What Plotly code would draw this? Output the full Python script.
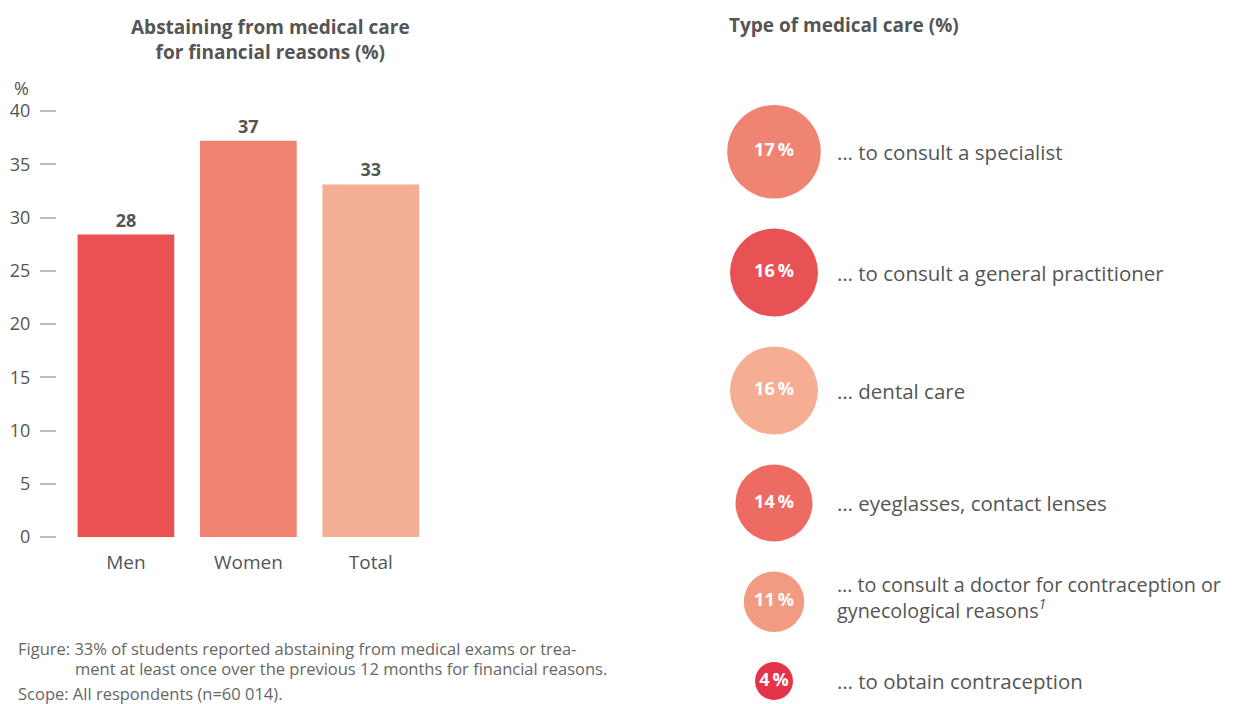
import plotly.graph_objects as go

# ---- data ----
groups = ["Men", "Women", "Total"]
abstain_values = [28.4, 37.2, 33.1]
y_ticks = [0, 5, 10, 15, 20, 25, 30, 35, 40]

care_labels = [
    "… to consult a specialist",
    "… to consult a general practitioner",
    "… dental care",
    "… eyeglasses, contact lenses",
    "… to consult a doctor for contraception or<br>gynecological reasons<sup><i>1</i></sup>",
    "… to obtain contraception",
]
care_values = [17, 16, 16, 14, 11, 4]

# ---- styles ----
FONT = "Open Sans"
TXT = "#555555"
NOTE = "#666666"
bar_colors = ["#EA5153", "#F08372", "#F5AE96"]
circle_colors = ["#F08472", "#E95255", "#F5AD94", "#EE6B63", "#F29B83", "#E5344A"]

W, H = 1233, 704

fig = go.Figure()

fig.add_trace(go.Bar(
    x=groups, y=abstain_values,
    marker=dict(color=bar_colors, line=dict(width=0)),
    width=0.79,
    texttemplate="<b>%{y:.0f}</b>",
    textposition="outside",
    textfont=dict(family=FONT, size=18, color=TXT),
    cliponaxis=False,
    xaxis="x", yaxis="y",
    hoverinfo="skip",
))

# bubble layout: stacked vertically, diameter proportional to value (min size)
diam = [max(38, 5.5 * v) for v in care_values]
gap = 30
top = 105
centers = []
cur = top
for d in diam:
    centers.append(cur + d / 2)
    cur += d + gap

fig.add_trace(go.Scatter(
    x=[0] * len(care_values), y=centers,
    mode="markers+text",
    marker=dict(size=diam, color=circle_colors, line=dict(width=0), opacity=1),
    text=[f"<b>{v}\u2009%</b>" for v in care_values],
    textposition="middle center",
    textfont=dict(family=FONT, size=18, color="white"),
    xaxis="x2", yaxis="y2",
    cliponaxis=False,
    hoverinfo="skip",
))

annotations = []
for lab, c in zip(care_labels, centers):
    multiline = "<br>" in lab
    annotations.append(dict(
        x=0, y=c, xref="x2", yref="y2", text=lab, showarrow=False,
        xanchor="left", yanchor="middle", align="left",
        xshift=61, yshift=4 if multiline else 0,
        font=dict(family=FONT, size=19.8 if multiline else 20.5, color=TXT),
    ))

annotations += [
    dict(x=270 / W, y=1 - 39 / H, xref="paper", yref="paper",
         text="<b>Abstaining from medical care<br>for financial reasons (%)</b>",
         showarrow=False, xanchor="center", yanchor="middle", align="center",
         font=dict(family=FONT, size=19, color=TXT)),
    dict(x=727 / W, y=1 - 25 / H, xref="paper", yref="paper",
         text="<b>Type of medical care (%)</b>",
         showarrow=False, xanchor="left", yanchor="middle", align="left",
         font=dict(family=FONT, size=19, color=TXT)),
    dict(x=12 / W, y=1 - 88 / H, xref="paper", yref="paper", text="%",
         showarrow=False, xanchor="left", yanchor="middle",
         font=dict(family=FONT, size=18, color=TXT)),
    dict(x=16 / W, y=1 - 648 / H, xref="paper", yref="paper",
         text="Figure: 33% of students reported abstaining from medical exams or trea-",
         showarrow=False, xanchor="left", yanchor="middle", align="left",
         font=dict(family=FONT, size=16.5, color=NOTE)),
    dict(x=73 / W, y=1 - 668 / H, xref="paper", yref="paper",
         text="ment at least once over the previous 12 months for financial reasons.",
         showarrow=False, xanchor="left", yanchor="middle", align="left",
         font=dict(family=FONT, size=16.5, color=NOTE)),
    dict(x=16 / W, y=1 - 693 / H, xref="paper", yref="paper",
         text="Scope: All respondents (n=60 014).",
         showarrow=False, xanchor="left", yanchor="middle", align="left",
         font=dict(family=FONT, size=16.5, color=NOTE)),
]

fig.update_layout(
    width=W, height=H,
    margin=dict(l=0, r=0, t=0, b=0, pad=0, autoexpand=False),
    paper_bgcolor="white", plot_bgcolor="white",
    showlegend=False,
    font=dict(family=FONT, color=TXT),
    xaxis=dict(domain=[57 / W, 432 / W], type="category", range=[-0.563, 2.5],
               showline=False, showgrid=False, zeroline=False, ticks="",
               automargin=False,
               tickfont=dict(family=FONT, size=19, color=TXT), ticklabelstandoff=12),
    yaxis=dict(domain=[(H - 537) / H, (H - 111) / H], range=[0, 40],
               tickvals=y_ticks, ticks="outside", ticklen=16, tickwidth=2,
               automargin=False,
               tickcolor="#BBBBBB", showline=False, showgrid=False, zeroline=False,
               tickfont=dict(family=FONT, size=18, color=TXT), ticklabelstandoff=6),
    xaxis2=dict(domain=[700 / W, 1], range=[-74, 459], visible=False, automargin=False),
    yaxis2=dict(domain=[0, 1], range=[H, 0], visible=False, automargin=False),
    annotations=annotations,
)

fig.write_html("out.html")
